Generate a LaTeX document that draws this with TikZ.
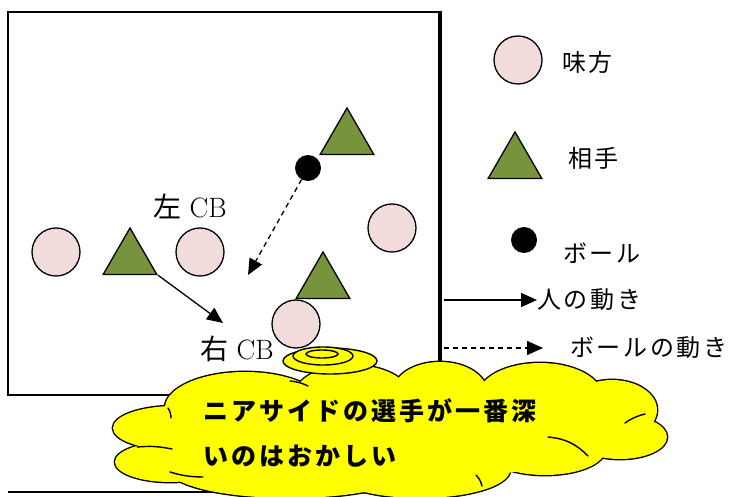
\documentclass[tikz,border=0pt]{standalone}
\usepackage{fontspec}
\newfontfamily\jp{Noto Sans CJK JP}
\usetikzlibrary{shapes.geometric,arrows.meta}
\definecolor{pinkc}{HTML}{F2DCDB}
\definecolor{greenc}{HTML}{77933C}
\definecolor{cloudc}{HTML}{FFFF00}
\tikzset{
  mikata/.style={circle, draw, fill=pinkc, line width=1.3pt, minimum size=48pt, inner sep=0pt},
  aite/.style={regular polygon, regular polygon sides=3, draw, fill=greenc, line width=1.3pt, minimum size=62pt, inner sep=0pt},
  ballnode/.style={circle, fill=black, minimum size=26pt, inner sep=0pt},
  move/.style={-{Triangle[length=16pt,width=14pt]}, line width=1.3pt},
  ballmove/.style={move, dash pattern=on 5pt off 4pt},
  jlab/.style={inner sep=0pt, font=\fontsize{24}{28}\selectfont\jp\addfontfeatures{LetterSpace=11}},
  cblab/.style={inner sep=0pt, font=\fontsize{28}{30}\selectfont},
  cloudtxt/.style={inner sep=0pt, font=\fontsize{25}{30}\selectfont\jp\bfseries\addfontfeatures{LetterSpace=12}},
  bubble/.style={ellipse, draw, fill=cloudc, line width=1.4pt, inner sep=0pt},
  cloudline/.style={line width=1.4pt, line cap=round}
}
\begin{document}
\begin{tikzpicture}[x=1pt,y=-1pt]
\useasboundingbox (0,0) rectangle (733,497);
\fill[white] (0,0) rectangle (733,497);
% field box
\draw[line width=1.4pt] (8,12) rectangle (440,395);
\draw[line width=3.8pt] (440,11) -- (440,395);
\draw[line width=1.6pt] (8,492) -- (440,492);

% players
\node[mikata] (c1) at (56,252) {};
\node[mikata] (c2) at (200,252) {};
\node[mikata] (c3) at (392,228) {};
\node[aite] (t1) at (130,259) {};
\node[aite] (t2) at (347,139) {};
\node[aite] (t3) at (323,283) {};
\node[mikata] (c4) at (296,324) {};
\node[ballnode] (b1) at (308,168) {};

% labels
\node[cblab] (lcb) at (190,206) {{\jp 左} CB};
\node[cblab] (rcb) at (237,349) {{\jp 右} CB};

% movements
\coordinate (ballend) at (248,275);
\coordinate (manend) at (223,323);
\draw[ballmove] (b1) -- (ballend);
\draw[move] (t1.corner 3) -- (manend);

% legend
\node[mikata] (lc) at (518,60) {};
\node[jlab, anchor=west] (lct) at (562,62) {味方};
\node[aite] (lt) at (515,163) {};
\node[jlab, anchor=west] (ltt) at (568,158) {相手};
\node[ballnode] (lbl) at (524,240) {};
\node[jlab, anchor=west] (lblt) at (563,253) {ボール};
\coordinate (lm0) at (444,300);
\node[jlab, anchor=west] (lmt) at (537,300) {人の動き};
\draw[move] (lm0) -- (lmt.west);
\coordinate (lb0) at (444,348);
\coordinate (lb1) at (543,348);
\node[jlab, anchor=west] (lbt) at (570,348) {ボールの動き};
\draw[ballmove] (lb0) -- (lb1);

% cloud callout
\begin{scope}
\clip (0,0) rectangle (733,497);
\foreach \cx/\cy/\rx/\ry in {175/428/62/22, 170/462/55/20, 245/408/80/36, 352/395/57/30, 440/392/47/30, 540/396/62/33, 612/410/45/30, 620/437/47/22, 545/450/60/25, 420/470/90/28, 290/470/120/28}
  \draw[fill=cloudc, line width=2.8pt] (\cx,\cy) ellipse [x radius=\rx, y radius=\ry];
\foreach \cx/\cy/\rx/\ry in {175/428/62/22, 170/462/55/20, 245/408/80/36, 352/395/57/30, 440/392/47/30, 540/396/62/33, 612/410/45/30, 620/437/47/22, 545/450/60/25, 420/470/90/28, 290/470/120/28, 400/435/200/45}
  \fill[cloudc] (\cx,\cy) ellipse [x radius=\rx, y radius=\ry];
% inner strokes of the cloud
\draw[cloudline] (137,447) to[bend left=8] (172,449);
\draw[cloudline] (168,408) to[bend left=15] (171,418);
\draw[cloudline] (290,381) to[bend left=10] (308,386);
\draw[cloudline] (170,472) to[bend right=8] (203,477);
\draw[cloudline] (625,423) to[bend left=10] (645,414);
\draw[cloudline] (548,437) to[bend left=20] (588,456);
\draw[cloudline] (476,475) to[bend left=15] (482,486);
\end{scope}
\node[bubble, minimum width=94pt, minimum height=26pt] (bub1) at (330,361) {};
\node[bubble, minimum width=60pt, minimum height=18pt] (bub2) at (323,356) {};
\node[bubble, minimum width=32pt, minimum height=8pt] (bub3) at (322,354) {};

\node[cloudtxt, anchor=base west] (ct1) at (203,420) {ニアサイドの選手が一番深};
\node[cloudtxt, anchor=base west] (ct2) at (203,465) {いのはおかしい};
\end{tikzpicture}
\end{document}
